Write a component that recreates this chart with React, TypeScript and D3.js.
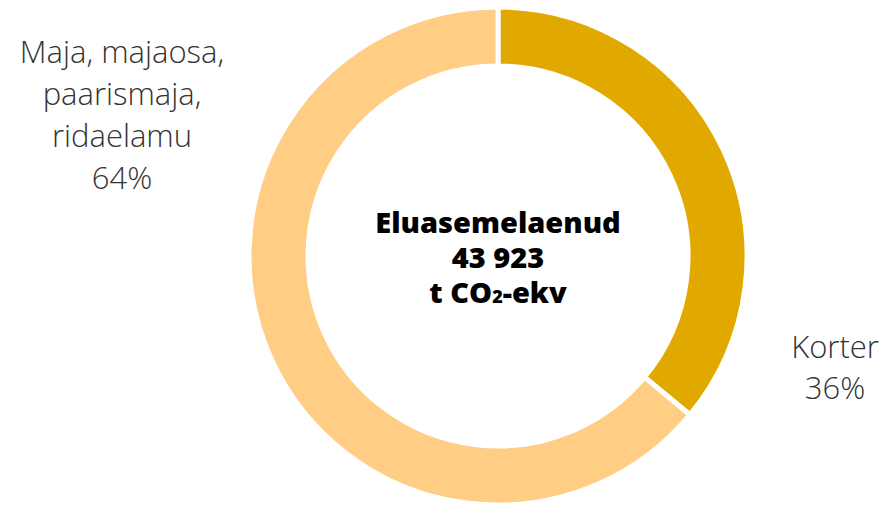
import React, { useEffect, useRef } from 'react';
import * as d3 from 'd3';

// andmed
const categories = ['Korter', 'Maja, majaosa, paarismaja, ridaelamu'];
const shares = [36, 64];
const colors = ['#E1A900', '#FFCD84'];
const centerLines = ['Eluasemelaenud', '43 923'];

const W = 884;
const H = 505;

const App = () => {
    const ref = useRef<SVGSVGElement>(null);

    useEffect(() => {
        const svg = d3.select(ref.current);
        svg.selectAll('*').remove();

        const cx = 498;
        const cy = 256;
        const outer = 249;
        const inner = 190;

        const pie = d3.pie<number>().sort(null).value((d) => d);
        const arc = d3.arc<d3.PieArcDatum<number>>().innerRadius(inner).outerRadius(outer);

        const g = svg.append('g').attr('transform', `translate(${cx},${cy})`);

        g.selectAll('path')
            .data(pie(shares))
            .join('path')
            .attr('d', arc)
            .attr('fill', (_, i) => colors[i])
            .attr('stroke', '#fff')
            .attr('stroke-width', 5);

        // keskmine tekst
        const center = g
            .append('text')
            .attr('text-anchor', 'middle')
            .attr('font-family', 'Open Sans, sans-serif')
            .attr('font-weight', 800)
            .attr('font-size', 29)
            .attr('fill', '#000');
        centerLines.forEach((t, i) => {
            center.append('tspan').attr('x', 0).attr('y', -23 + i * 35).text(t);
        });
        const last = center.append('tspan').attr('x', 0).attr('y', -23 + 2 * 35);
        last.append('tspan').text('t CO');
        last.append('tspan').attr('font-size', 18).text('2');
        last.append('tspan').text('-ekv');

        // sildid
        const labelStyle = (sel) =>
            sel
                .attr('text-anchor', 'middle')
                .attr('font-family', 'Open Sans, sans-serif')
                .attr('font-weight', 300)
                .attr('font-size', 31)
                .attr('fill', '#333');

        const left = svg.append('text').call(labelStyle);
        ['Maja, majaosa,', 'paarismaja,', 'ridaelamu', `${shares[1]}%`].forEach((t, i) => {
            left.append('tspan').attr('x', 122).attr('y', 63 + i * 42).text(t);
        });

        const right = svg.append('text').call(labelStyle);
        [categories[0], `${shares[0]}%`].forEach((t, i) => {
            right.append('tspan').attr('x', 835).attr('y', 358 + i * 41).text(t);
        });
    }, []);

    return (
        <svg
            ref={ref}
            width={W}
            height={H}
            style={{ position: 'fixed', top: 0, left: 0, background: '#fff' }}
        />
    );
};

export default App;
